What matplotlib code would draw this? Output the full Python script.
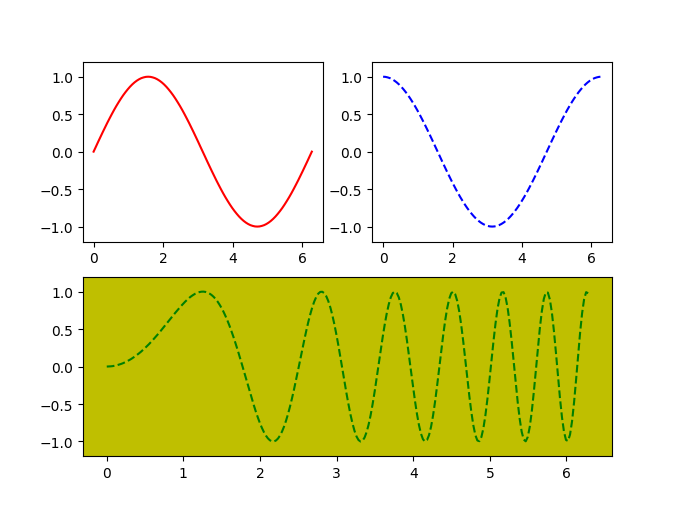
import numpy as np
import matplotlib
matplotlib.use("Agg")
import matplotlib.pyplot as plt

sin_vals = [
    0.000, 0.065, 0.131, 0.195, 0.259, 0.321, 0.383, 0.442, 0.500, 0.556,
    0.609, 0.659, 0.707, 0.752, 0.793, 0.831, 0.866, 0.897, 0.924, 0.947,
    0.966, 0.981, 0.991, 0.998, 1.000, 0.998, 0.991, 0.981, 0.966, 0.947,
    0.924, 0.897, 0.866, 0.831, 0.793, 0.752, 0.707, 0.659, 0.609, 0.556,
    0.500, 0.442, 0.383, 0.321, 0.259, 0.195, 0.131, 0.065, 0.000,
    -0.065, -0.131, -0.195, -0.259, -0.321, -0.383, -0.442, -0.500, -0.556,
    -0.609, -0.659, -0.707, -0.752, -0.793, -0.831, -0.866, -0.897, -0.924, -0.947,
    -0.966, -0.981, -0.991, -0.998, -1.000, -0.998, -0.991, -0.981, -0.966, -0.947,
    -0.924, -0.897, -0.866, -0.831, -0.793, -0.752, -0.707, -0.659, -0.609, -0.556,
    -0.500, -0.442, -0.383, -0.321, -0.259, -0.195, -0.131, -0.065, 0.000]

cos_vals = [
    1.000, 0.998, 0.991, 0.981, 0.966, 0.947, 0.924, 0.897, 0.866, 0.831,
    0.793, 0.752, 0.707, 0.659, 0.609, 0.556, 0.500, 0.442, 0.383, 0.321,
    0.259, 0.195, 0.131, 0.065, 0.000, -0.065, -0.131, -0.195, -0.259, -0.321,
    -0.383, -0.442, -0.500, -0.556, -0.609, -0.659, -0.707, -0.752, -0.793, -0.831,
    -0.866, -0.897, -0.924, -0.947, -0.966, -0.981, -0.991, -0.998, -1.000,
    -0.998, -0.991, -0.981, -0.966, -0.947, -0.924, -0.897, -0.866, -0.831,
    -0.793, -0.752, -0.707, -0.659, -0.609, -0.556, -0.500, -0.442, -0.383,
    -0.321, -0.259, -0.195, -0.131, -0.065, 0.000, 0.065, 0.131, 0.195,
    0.259, 0.321, 0.383, 0.442, 0.500, 0.556, 0.609, 0.659, 0.707, 0.752,
    0.793, 0.831, 0.866, 0.897, 0.924, 0.947, 0.966, 0.981, 0.991, 0.998, 1.000]

chirp_vals = [
    0.000, 0.001, 0.003, 0.006, 0.011, 0.017, 0.025, 0.034, 0.044, 0.056,
    0.069, 0.084, 0.099, 0.117, 0.135, 0.155, 0.176, 0.198, 0.222, 0.247,
    0.273, 0.300, 0.328, 0.358, 0.388, 0.419, 0.450, 0.483, 0.516, 0.549,
    0.583, 0.616, 0.650, 0.684, 0.717, 0.749, 0.781, 0.811, 0.840, 0.868,
    0.894, 0.918, 0.939, 0.957, 0.973, 0.985, 0.994, 0.999, 1.000, 0.996,
    0.988, 0.974, 0.956, 0.932, 0.903, 0.868, 0.827, 0.781, 0.729, 0.671,
    0.608, 0.540, 0.466, 0.388, 0.306, 0.220, 0.131, 0.039, -0.054, -0.148,
    -0.243, -0.336, -0.427, -0.515, -0.600, -0.679, -0.752, -0.817, -0.874, -0.921,
    -0.958, -0.984, -0.998, -0.999, -0.987, -0.961, -0.921, -0.868, -0.802, -0.723,
    -0.633, -0.531, -0.420, -0.301, -0.175, -0.046, 0.086, 0.218, 0.347, 0.471,
    0.588, 0.694, 0.788, 0.867, 0.929, 0.973, 0.996, 0.998, 0.979, 0.937,
    0.873, 0.789, 0.685, 0.564, 0.428, 0.281, 0.125, -0.036, -0.197, -0.355,
    -0.503, -0.640, -0.759, -0.858, -0.933, -0.981, -1.000,
    -0.989, -0.947, -0.875, -0.775, -0.649, -0.500, -0.334, -0.156, 0.030, 0.215,
    0.395, 0.561, 0.708, 0.830, 0.922, 0.980, 1.000, 0.981, 0.923, 0.828,
    0.698, 0.539, 0.356, 0.157, -0.051, -0.257, -0.454, -0.631, -0.781, -0.896,
    -0.971, -1.000, -0.981, -0.915, -0.804, -0.653, -0.468, -0.258, -0.033, 0.194,
    0.413, 0.611, 0.777, 0.902, 0.978, 1.000, 0.965, 0.875, 0.735, 0.550,
    0.332, 0.093, -0.153, -0.391, -0.606, -0.785, -0.915, -0.987, -0.996, -0.940,
    -0.822, -0.648, -0.430, -0.182, 0.081, 0.338, 0.574, 0.770, 0.912, 0.988,
    0.993, 0.924, 0.786, 0.588, 0.345, 0.073, -0.205, -0.469, -0.697, -0.870,
    -0.974, -0.998, -0.941, -0.806, -0.602, -0.346, -0.060, 0.233, 0.507, 0.738,
    0.904, 0.990, 0.987, 0.894, 0.719, 0.476, 0.187, -0.121, -0.418, -0.676,
    -0.870, -0.980, -0.993, -0.908, -0.731, -0.479, -0.177, 0.144, 0.452, 0.713,
    0.901, 0.993, 0.978]

x_top = np.linspace(0, 2*np.pi, len(sin_vals))
x_bot = np.linspace(0, 2*np.pi, len(chirp_vals))

fig = plt.figure(figsize=(6.75, 5.1), dpi=100)
fig.subplots_adjust(left=0.1225, right=0.907, top=0.877, bottom=0.103,
                    wspace=0.206, hspace=0.195)

ax1 = plt.subplot(221)
ax1.plot(x_top, sin_vals, 'r-')
ax1.set_ylim(-1.2, 1.2)

ax2 = plt.subplot(222)
ax2.plot(x_top, cos_vals, 'b--')
ax2.set_ylim(-1.2, 1.2)

ax3 = plt.subplot(212, facecolor='y')
ax3.plot(x_bot, chirp_vals, 'g--')
ax3.set_ylim(-1.2, 1.2)

fig.savefig('out.png')
